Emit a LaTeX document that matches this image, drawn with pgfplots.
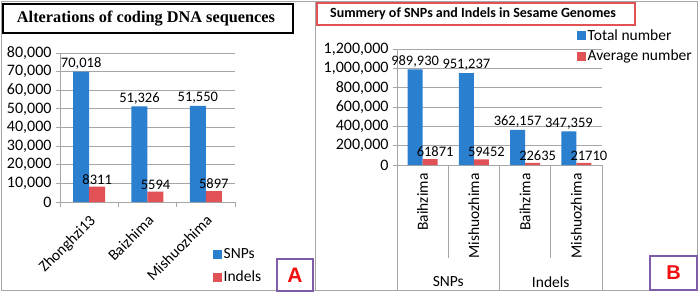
\documentclass[border=0pt]{standalone}
\usepackage{pgfplots}
\pgfplotsset{compat=1.18}
\usepackage{fontspec}
\setmainfont{Carlito}
\newfontfamily\titleserif{Liberation Serif}
\newfontfamily\arialb{Liberation Sans}
\definecolor{cblue}{HTML}{2A7FCF}
\definecolor{cred}{HTML}{E05255}
\definecolor{gridc}{HTML}{A6A6A6}
\definecolor{purp}{HTML}{7E5CA8}
\definecolor{lred}{HTML}{F01010}
\pgfplotsset{
  common/.style={
    scale only axis,
    ybar=0pt,
    axis x line*=bottom, axis y line*=left,
    axis line style={-, draw=gridc, line width=0.8pt},
    ymajorgrids, grid style={draw=gridc, line width=0.8pt},
    tick align=outside,
    major tick length=4pt,
    ytick style={draw=gridc, line width=0.8pt},
    major x tick style={draw=none},
    minor x tick style={draw=gridc, line width=0.8pt},
    scaled y ticks=false,
    /pgf/number format/assume math mode=true,
    yticklabel style={font=\fontsize{16}{19}\selectfont, /pgf/number format/fixed, /pgf/number format/1000 sep={,}, xshift=-1pt},
    xticklabel style={font=\fontsize{15.5}{18}\selectfont},
    legend style={draw=none, fill=none, font=\fontsize{15.5}{18}\selectfont, inner sep=0pt, nodes={inner sep=1.5pt}},
    legend image code/.code={\draw[#1,draw=none] (0pt,-4.5pt) rectangle (9pt,4.5pt);},
    legend cell align=left,
  },
  commalab/.style={nodes near coords={\pgfmathprintnumber[fixed,precision=0,1000 sep={,},assume math mode=true]{\pgfplotspointmeta}},
    nodes near coords style={font=\fontsize{14.5}{17}\selectfont, inner sep=2pt, black}},
  plainlab/.style={nodes near coords={\pgfmathprintnumber[fixed,precision=0,1000 sep={},assume math mode=true]{\pgfplotspointmeta}},
    nodes near coords style={font=\fontsize{14.5}{17}\selectfont, inner sep=2pt, black}},
}
\begin{document}
\begin{tikzpicture}
\useasboundingbox (0pt,0pt) rectangle (699pt,293pt);
\fill[white] (0pt,0pt) rectangle (699pt,293pt);
\draw[gridc, line width=1pt] (1.5pt,3pt) rectangle (697.5pt,292pt);
\draw[gridc, line width=1pt] (315pt,3pt) -- (315pt,292pt);

% ---------- Panel A ----------
\begin{axis}[common,
  at={(60pt,91pt)}, anchor=south west,
  width=175pt, height=149pt,
  ymin=0, ymax=80000, ytick={0,10000,...,80000},
  xmin=-0.5, xmax=2.5,
  xtick={0,1,2}, xticklabels={Zhonghzi13,Baizhima,Mishuozhima},
  minor xtick={-0.5,0.5,1.5,2.5}, minor tick length=5pt,
  xticklabel style={rotate=45, anchor=north east, xshift=-2.5pt, yshift=-1.8pt},
  bar width=16pt,
  legend style={at={(rel axis cs:0.874,-0.30)}, anchor=north west, row sep=8pt},
]
\addplot[fill=cblue, draw=none, commalab] coordinates {(0,70018) (1,51326) (2,51550)};
\addplot[fill=cred, draw=none, plainlab] coordinates {(0,8311) (1,5594) (2,5897)};
\legend{SNPs, Indels}
\end{axis}

% ---------- Panel B ----------
\begin{axis}[common,
  at={(397pt,128pt)}, anchor=south west,
  width=205pt, height=116pt,
  ymin=0, ymax=1200000, ytick={0,200000,...,1200000},
  xmin=-0.5, xmax=3.5,
  xtick={0,1,2,3}, xticklabels={Baihzima,Mishuozhima,Baihzima,Mishuozhima},
  minor xtick={-0.5,1.5,3.5}, minor tick length=126pt,
  extra x ticks={0.5,2.5}, extra x tick labels={},
  extra x tick style={major x tick style={draw=gridc, line width=0.8pt}, major tick length=93pt},
  xticklabel style={rotate=90, anchor=east, xshift=-1pt},
  bar width=15pt,
  legend style={at={(rel axis cs:0.878,1.185)}, anchor=north west, row sep=5.5pt},
  clip=false,
]
\addplot[fill=cblue, draw=none, commalab] coordinates {(0,989930) (1,951237) (2,362157) (3,347359)};
\addplot[fill=cred, draw=none, plainlab, nodes near coords style={xshift=5pt}] coordinates {(0,61871) (1,59452) (2,22635) (3,21710)};
\legend{Total number, Average number}
\node[font=\fontsize{15.5}{18}\selectfont] at (rel axis cs:0.25,0) [yshift=-117pt] {SNPs};
\node[font=\fontsize{15.5}{18}\selectfont] at (rel axis cs:0.75,0) [yshift=-117pt] {Indels};
\end{axis}

% ---------- titles and panel letters ----------
\draw[black, line width=2.5pt] (3pt,260pt) rectangle (293pt,289pt);
\node[font=\titleserif\bfseries\fontsize{16.3}{19}\selectfont] at (146pt,274.5pt) {Alterations of coding DNA sequences};
\draw[cred, line width=2pt] (317pt,268pt) rectangle (635pt,290pt);
\node[font=\bfseries\fontsize{14}{17}\selectfont, anchor=west, inner sep=0pt] at (330pt,279pt) {Summery of SNPs and Indels in Sesame Genomes};
\draw[purp, line width=2pt] (277pt,2pt) rectangle (313pt,34pt);
\node[font=\arialb\bfseries\fontsize{21}{24}\selectfont, text=lred] at (295pt,18pt) {A};
\draw[purp, line width=2pt] (650pt,3pt) rectangle (697pt,37pt);
\node[font=\arialb\bfseries\fontsize{20}{24}\selectfont, text=lred] at (673.5pt,20pt) {B};
\end{tikzpicture}
\end{document}
